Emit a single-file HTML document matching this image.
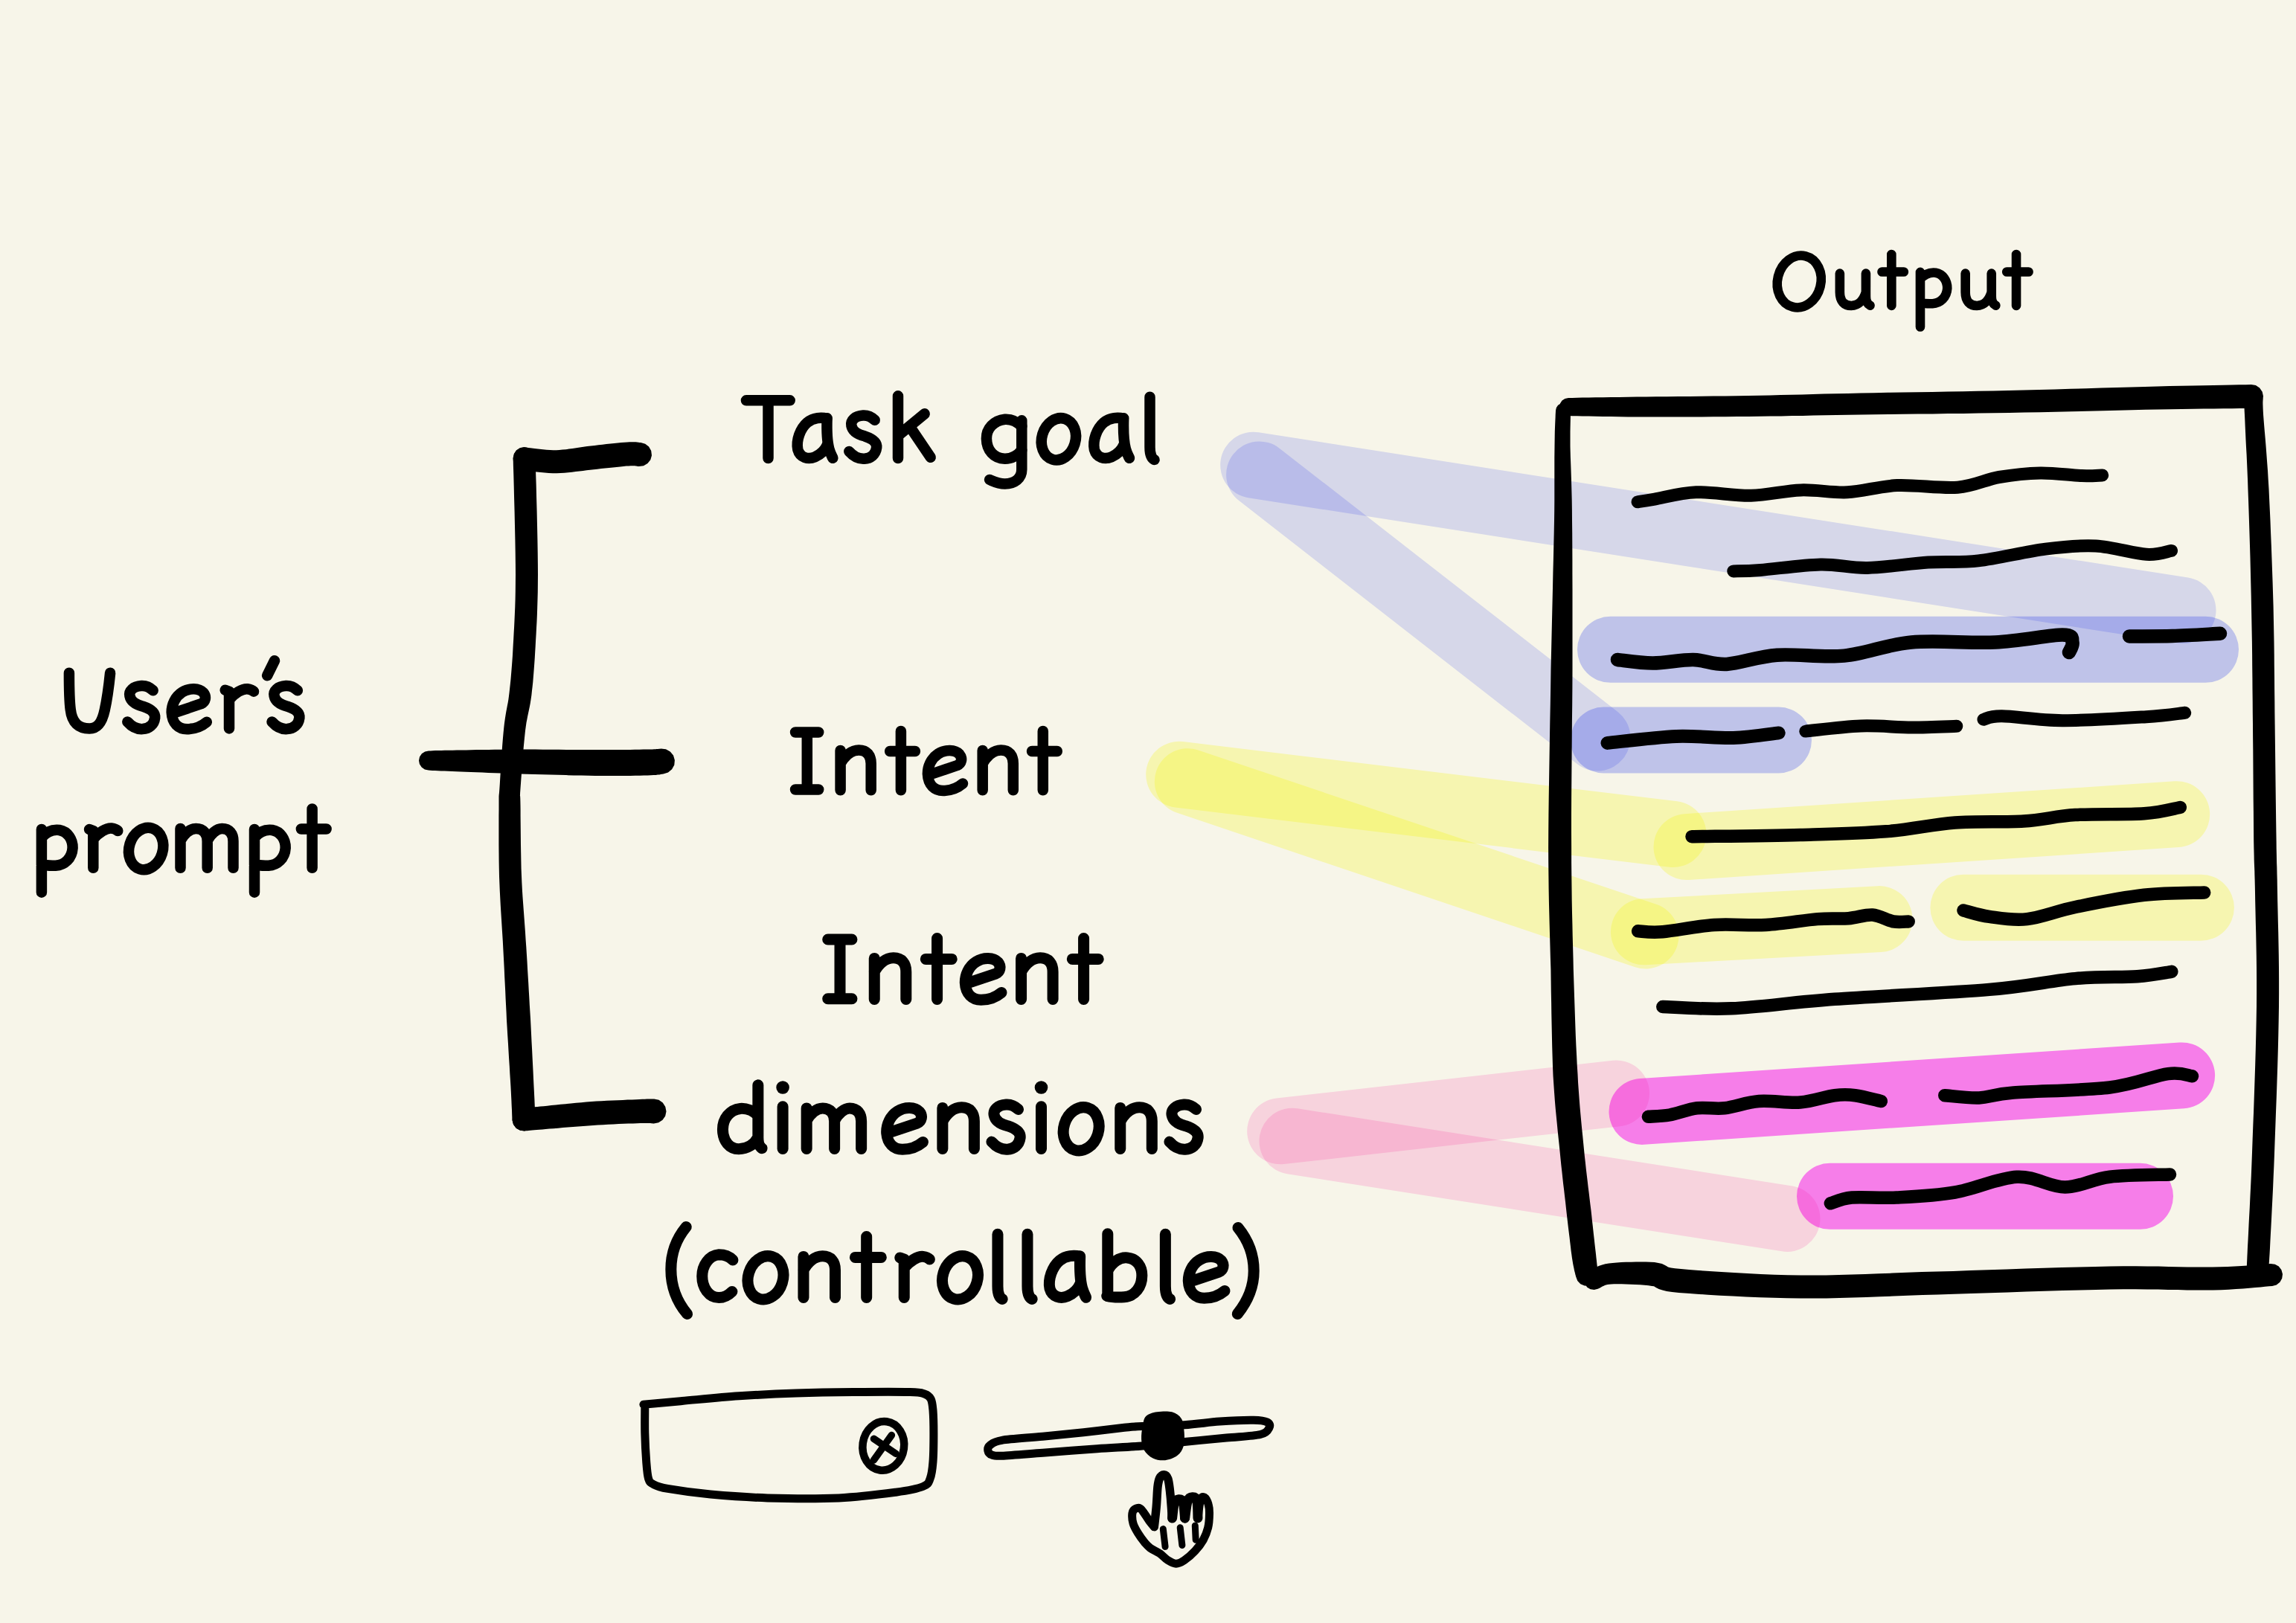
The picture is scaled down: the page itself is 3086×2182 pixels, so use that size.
<!DOCTYPE html>
<html><head><meta charset="utf-8"><title>diagram</title>
<style>html,body{margin:0;padding:0;background:#F7F5E9;}svg{display:block}</style></head>
<body><svg width="3086" height="2182" viewBox="0 0 3086 2182">
<rect width="3086" height="2182" fill="#F7F5E9"/>
<g style="mix-blend-mode:multiply">
<path d="M1684.7 625.2 L2934.0 820.5" fill="none" stroke="rgb(221,224,255)" stroke-width="89" stroke-linecap="round"  style="mix-blend-mode:multiply"/>
<path d="M1692.6 638.0 L2147.0 992.0" fill="none" stroke="rgb(221,224,255)" stroke-width="89" stroke-linecap="round"  style="mix-blend-mode:multiply"/>
<path d="M2164.5 873.3 L2964.5 873.3" fill="none" stroke="rgb(197,203,255)" stroke-width="89" stroke-linecap="round"  style="mix-blend-mode:multiply"/>
<path d="M2155.5 995.0 L2390.5 995.0" fill="none" stroke="rgb(197,203,255)" stroke-width="89" stroke-linecap="round"  style="mix-blend-mode:multiply"/>
<path d="M1584.7 1041.3 L2249.0 1121.5" fill="none" stroke="rgb(254,255,193)" stroke-width="89" stroke-linecap="round"  style="mix-blend-mode:multiply"/>
<path d="M1596.3 1050.7 L2212.0 1258.0" fill="none" stroke="rgb(254,255,193)" stroke-width="89" stroke-linecap="round"  style="mix-blend-mode:multiply"/>
<path d="M2267.0 1138.6 L2925.7 1094.7" fill="none" stroke="rgb(254,255,193)" stroke-width="89" stroke-linecap="round"  style="mix-blend-mode:multiply"/>
<path d="M2209.4 1252.7 L2526.0 1235.6" fill="none" stroke="rgb(254,255,193)" stroke-width="89" stroke-linecap="round"  style="mix-blend-mode:multiply"/>
<path d="M2638.9 1220.2 L2958.4 1220.2" fill="none" stroke="rgb(254,255,193)" stroke-width="89" stroke-linecap="round"  style="mix-blend-mode:multiply"/>
<path d="M1720.7 1520.8 L2172.5 1470.0" fill="none" stroke="rgb(255,220,242)" stroke-width="89" stroke-linecap="round"  style="mix-blend-mode:multiply"/>
<path d="M1737.0 1534.2 L2402.0 1638.4" fill="none" stroke="rgb(255,220,242)" stroke-width="89" stroke-linecap="round"  style="mix-blend-mode:multiply"/>
<path d="M2207.0 1494.4 L2932.6 1445.9" fill="none" stroke="rgb(254,131,255)" stroke-width="89" stroke-linecap="round"  style="mix-blend-mode:multiply"/>
<path d="M2459.5 1608.3 L2876.5 1608.3" fill="none" stroke="rgb(254,131,255)" stroke-width="89" stroke-linecap="round"  style="mix-blend-mode:multiply"/>
</g>
<path d="M689.7 616.4 L689.9 625.9 L690.3 638.6 L690.7 653.6 L691.1 670.4 L691.6 688.4 L692.0 706.8 L692.4 725.0 L692.7 742.4 L692.9 758.3 L693.0 772.0 L692.9 784.0 L692.8 795.3 L692.6 805.8 L692.3 815.7 L691.9 825.1 L691.5 834.0 L691.1 842.6 L690.6 851.0 L690.2 859.1 L689.7 867.2 L689.3 874.9 L688.9 882.3 L688.4 889.2 L687.9 895.8 L687.4 902.1 L686.9 908.1 L686.4 914.0 L685.8 919.7 L685.2 925.3 L684.6 930.8 L684.0 935.8 L683.4 940.3 L682.7 944.5 L681.9 948.6 L681.1 952.7 L680.3 957.1 L679.5 961.8 L678.7 966.9 L677.9 972.7 L677.2 979.0 L676.5 986.2 L675.8 994.3 L675.1 1003.0 L674.5 1012.1 L673.8 1021.3 L673.2 1030.4 L672.7 1039.1 L672.2 1047.1 L671.8 1054.1 L671.4 1059.9 L671.1 1064.0 L670.9 1066.6 L670.7 1068.1 L670.6 1069.3 L670.5 1070.8 L670.5 1071.7 L670.5 1072.6 L670.5 1074.3 L670.5 1077.3 L670.5 1082.1 L670.5 1088.6 L670.4 1096.4 L670.4 1105.3 L670.4 1115.1 L670.4 1125.4 L670.4 1136.1 L670.5 1147.0 L670.6 1157.9 L670.8 1168.5 L671.0 1178.5 L671.4 1188.3 L671.8 1198.0 L672.3 1207.7 L672.8 1217.3 L673.4 1227.0 L674.0 1236.6 L674.6 1246.2 L675.2 1255.8 L675.8 1265.3 L676.3 1274.9 L676.8 1284.5 L677.3 1294.1 L677.8 1303.8 L678.2 1313.4 L678.7 1323.1 L679.2 1332.7 L679.6 1342.4 L680.1 1352.1 L680.6 1361.7 L681.0 1371.4 L681.6 1381.3 L682.2 1391.6 L682.9 1402.1 L683.5 1412.7 L684.1 1423.1 L684.8 1433.3 L685.3 1443.0 L685.9 1452.0 L686.4 1460.3 L686.8 1467.5 L687.1 1473.8 L687.4 1479.4 L687.6 1484.4 L687.8 1488.7 L688.0 1492.5 L688.1 1495.8 L688.2 1498.7 L688.3 1501.3 L688.4 1503.6 L688.5 1505.7 L689.9 1511.5 L693.5 1516.4 L698.7 1519.6 L704.7 1520.5 L710.5 1519.1 L715.4 1515.5 L718.6 1510.3 L719.5 1504.3 L719.4 1502.4 L719.3 1500.1 L719.2 1497.6 L719.1 1494.6 L719.0 1491.2 L718.8 1487.4 L718.6 1483.0 L718.4 1477.9 L718.1 1472.3 L717.8 1465.9 L717.4 1458.6 L717.0 1450.3 L716.6 1441.2 L716.1 1431.5 L715.6 1421.4 L715.1 1410.9 L714.5 1400.3 L714.0 1389.8 L713.5 1379.5 L713.0 1369.6 L712.4 1360.0 L711.8 1350.4 L711.3 1340.7 L710.7 1331.1 L710.2 1321.4 L709.6 1311.7 L709.0 1302.1 L708.5 1292.4 L707.9 1282.8 L707.3 1273.1 L706.6 1263.4 L706.0 1253.8 L705.3 1244.1 L704.6 1234.5 L703.9 1224.9 L703.2 1215.4 L702.5 1205.9 L701.9 1196.4 L701.4 1186.9 L701.0 1177.5 L700.6 1167.7 L700.4 1157.3 L700.2 1146.6 L700.0 1135.9 L699.9 1125.2 L699.8 1115.0 L699.7 1105.3 L699.6 1096.4 L699.6 1088.5 L699.5 1081.9 L699.4 1076.9 L699.3 1073.6 L699.2 1071.4 L699.1 1070.2 L699.0 1070.1 L698.9 1070.6 L698.9 1070.2 L699.0 1068.7 L699.1 1065.9 L699.4 1061.7 L699.8 1055.9 L700.3 1049.0 L700.9 1041.0 L701.5 1032.4 L702.2 1023.4 L703.0 1014.3 L703.7 1005.3 L704.5 996.8 L705.3 989.0 L706.0 982.2 L706.8 976.5 L707.5 971.5 L708.4 966.9 L709.2 962.7 L710.1 958.5 L711.0 954.3 L711.9 949.9 L712.8 945.2 L713.6 940.0 L714.4 934.4 L715.0 928.6 L715.7 922.8 L716.3 916.9 L716.8 910.8 L717.3 904.5 L717.8 898.0 L718.3 891.2 L718.8 884.1 L719.2 876.7 L719.7 868.8 L720.1 860.8 L720.6 852.6 L721.0 844.2 L721.5 835.5 L721.9 826.3 L722.2 816.7 L722.5 806.6 L722.8 795.8 L722.9 784.3 L723.0 772.0 L722.9 758.0 L722.7 741.9 L722.4 724.4 L722.0 706.1 L721.6 687.6 L721.1 669.7 L720.7 652.8 L720.2 637.8 L719.9 625.2 L719.7 615.6 L718.4 609.9 L715.1 605.1 L710.1 602.0 L704.3 601.0 L698.6 602.3 L693.8 605.6 L690.7 610.6Z" fill="#000"/>
<path d="M703.4 632.4 L705.8 632.7 L708.9 633.0 L712.7 633.5 L717.0 634.0 L721.8 634.6 L726.9 635.1 L732.2 635.6 L737.6 636.0 L743.0 636.2 L748.3 636.2 L753.4 636.1 L758.6 635.7 L763.7 635.3 L768.8 634.8 L773.8 634.1 L778.8 633.5 L783.6 632.9 L788.4 632.3 L793.1 631.7 L797.8 631.2 L802.7 630.7 L807.9 630.1 L813.1 629.5 L818.5 628.9 L823.7 628.4 L828.7 627.9 L833.5 627.4 L837.9 627.0 L841.8 626.6 L845.0 626.4 L847.6 626.2 L849.7 626.2 L851.3 626.2 L852.5 626.2 L853.5 626.3 L854.3 626.4 L855.1 626.5 L856.2 626.7 L857.6 626.9 L858.8 627.0 L865.0 626.2 L870.4 623.1 L874.3 618.2 L876.0 612.2 L875.2 606.0 L872.1 600.6 L867.2 596.7 L861.2 595.0 L860.8 595.0 L860.5 595.0 L859.6 594.9 L858.3 594.7 L856.5 594.5 L854.4 594.3 L852.0 594.2 L849.3 594.2 L846.3 594.3 L843.0 594.4 L839.2 594.7 L835.0 595.1 L830.4 595.5 L825.5 596.0 L820.3 596.6 L815.0 597.1 L809.7 597.7 L804.4 598.3 L799.2 598.9 L794.2 599.4 L789.2 600.0 L784.2 600.7 L779.2 601.5 L774.4 602.2 L769.6 602.9 L764.9 603.6 L760.4 604.2 L756.0 604.6 L751.8 605.0 L747.7 605.2 L743.7 605.2 L739.2 605.0 L734.6 604.7 L729.9 604.3 L725.2 603.8 L720.7 603.3 L716.5 602.7 L712.7 602.3 L709.3 601.9 L706.6 601.6 L700.6 602.1 L695.2 605.0 L691.4 609.6 L689.6 615.4 L690.1 621.4 L693.0 626.8 L697.6 630.6Z" fill="#000"/>
<path d="M575.9 1035.5 L578.3 1035.7 L581.3 1035.9 L584.7 1036.0 L588.6 1036.2 L592.8 1036.4 L597.5 1036.6 L602.6 1036.8 L608.0 1037.1 L613.8 1037.3 L619.8 1037.5 L626.3 1037.8 L633.2 1038.1 L640.5 1038.3 L648.3 1038.6 L656.3 1038.9 L664.6 1039.2 L673.2 1039.5 L681.9 1039.9 L690.8 1040.2 L699.8 1040.5 L709.1 1040.7 L718.9 1041.0 L729.2 1041.3 L739.7 1041.6 L750.3 1041.8 L760.9 1042.1 L771.3 1042.4 L781.4 1042.6 L791.0 1042.8 L799.9 1043.0 L808.4 1043.0 L816.7 1043.0 L824.8 1043.0 L832.7 1043.0 L840.1 1042.9 L847.2 1042.9 L853.9 1042.8 L860.0 1042.7 L865.5 1042.6 L870.4 1042.5 L874.7 1042.3 L878.4 1042.1 L881.5 1041.9 L884.1 1041.6 L886.3 1041.4 L888.1 1041.1 L889.5 1040.8 L890.4 1040.7 L891.0 1040.5 L891.6 1040.4 L898.0 1038.5 L903.1 1034.3 L906.3 1028.5 L906.9 1021.9 L905.0 1015.5 L900.8 1010.4 L895.0 1007.2 L888.4 1006.6 L887.1 1006.7 L885.7 1006.8 L884.6 1006.9 L883.6 1007.0 L882.5 1007.1 L881.0 1007.2 L879.1 1007.3 L876.7 1007.4 L873.5 1007.4 L869.6 1007.5 L864.8 1007.6 L859.4 1007.7 L853.4 1007.8 L846.8 1007.9 L839.9 1007.9 L832.5 1008.0 L824.7 1008.0 L816.7 1008.0 L808.5 1008.0 L800.1 1008.0 L791.3 1008.0 L781.8 1008.0 L771.8 1008.0 L761.5 1007.9 L750.9 1007.8 L740.3 1007.8 L729.8 1007.7 L719.5 1007.6 L709.6 1007.5 L700.2 1007.5 L691.2 1007.6 L682.4 1007.7 L673.6 1007.7 L665.0 1007.8 L656.7 1007.9 L648.6 1008.0 L640.9 1008.1 L633.6 1008.3 L626.6 1008.4 L620.2 1008.5 L614.1 1008.6 L608.4 1008.7 L602.9 1008.7 L597.9 1008.8 L593.2 1008.9 L588.9 1009.0 L585.0 1009.1 L581.6 1009.3 L578.6 1009.4 L576.1 1009.5 L571.2 1010.4 L566.9 1013.2 L564.0 1017.4 L563.0 1022.4 L563.9 1027.3 L566.7 1031.6 L570.9 1034.5Z" fill="#000"/>
<path d="M705.3 1520.4 L706.8 1520.3 L708.5 1520.2 L710.5 1520.0 L712.8 1519.8 L715.3 1519.6 L718.2 1519.3 L721.4 1519.1 L725.0 1518.8 L729.0 1518.4 L733.4 1518.0 L738.4 1517.6 L743.9 1517.2 L750.0 1516.7 L756.5 1516.1 L763.2 1515.5 L770.1 1514.9 L777.0 1514.4 L783.9 1513.9 L790.6 1513.4 L797.1 1513.0 L803.6 1512.6 L810.4 1512.2 L817.4 1511.8 L824.5 1511.5 L831.5 1511.1 L838.3 1510.8 L844.7 1510.6 L850.7 1510.4 L856.0 1510.2 L860.5 1510.0 L864.2 1509.9 L867.3 1509.9 L869.7 1509.9 L871.6 1510.0 L873.1 1510.1 L874.3 1510.1 L875.4 1510.2 L876.5 1510.3 L877.6 1510.4 L878.8 1510.5 L885.1 1509.3 L890.5 1505.8 L894.2 1500.5 L895.5 1494.2 L894.3 1487.9 L890.8 1482.5 L885.5 1478.8 L879.2 1477.5 L878.5 1477.5 L877.8 1477.6 L876.8 1477.6 L875.5 1477.6 L873.9 1477.6 L871.9 1477.6 L869.5 1477.6 L866.7 1477.7 L863.4 1477.8 L859.5 1478.0 L854.8 1478.2 L849.5 1478.4 L843.5 1478.6 L837.0 1478.9 L830.1 1479.2 L823.0 1479.5 L815.8 1479.8 L808.6 1480.2 L801.6 1480.6 L794.9 1481.0 L788.2 1481.6 L781.3 1482.2 L774.3 1482.8 L767.3 1483.5 L760.3 1484.2 L753.5 1484.8 L747.1 1485.5 L741.0 1486.1 L735.5 1486.7 L730.6 1487.2 L726.3 1487.5 L722.3 1487.9 L718.7 1488.2 L715.5 1488.5 L712.7 1488.7 L710.1 1488.9 L707.9 1489.1 L705.9 1489.3 L704.2 1489.4 L702.7 1489.6 L696.9 1491.2 L692.1 1495.0 L689.2 1500.3 L688.6 1506.3 L690.2 1512.1 L694.0 1516.9 L699.3 1519.8Z" fill="#000"/>
<path d="M2091.0 551.7 L2090.9 554.3 L2090.7 557.4 L2090.6 560.9 L2090.4 564.9 L2090.2 569.5 L2090.0 574.5 L2089.8 580.1 L2089.7 586.2 L2089.6 592.8 L2089.5 600.0 L2089.4 607.5 L2089.3 615.2 L2089.3 623.2 L2089.3 631.7 L2089.3 640.7 L2089.3 650.5 L2089.3 661.1 L2089.3 672.8 L2089.2 685.7 L2089.0 700.0 L2088.7 715.7 L2088.3 732.9 L2087.9 751.3 L2087.4 770.7 L2087.0 791.1 L2086.5 812.2 L2086.0 833.8 L2085.5 855.7 L2085.0 877.8 L2084.5 899.8 L2084.2 922.6 L2083.8 946.5 L2083.3 971.3 L2082.9 996.6 L2082.5 1022.1 L2082.1 1047.5 L2081.7 1072.3 L2081.4 1096.2 L2081.2 1118.9 L2081.1 1140.0 L2081.2 1159.6 L2081.4 1178.0 L2081.6 1195.5 L2081.9 1212.0 L2082.3 1228.0 L2082.7 1243.4 L2083.1 1258.5 L2083.5 1273.4 L2083.9 1288.3 L2084.4 1303.4 L2084.6 1318.6 L2084.8 1333.8 L2085.1 1348.8 L2085.3 1363.6 L2085.6 1378.3 L2085.9 1392.6 L2086.2 1406.6 L2086.6 1420.1 L2087.0 1433.3 L2087.5 1445.9 L2088.3 1458.0 L2089.1 1469.5 L2089.9 1480.5 L2090.8 1491.1 L2091.8 1501.3 L2092.8 1511.2 L2093.7 1520.8 L2094.7 1530.2 L2095.7 1539.4 L2096.6 1548.6 L2097.5 1557.7 L2098.4 1566.7 L2099.4 1575.4 L2100.3 1583.9 L2101.2 1592.2 L2102.2 1600.3 L2103.1 1608.2 L2104.0 1615.8 L2104.8 1623.2 L2105.6 1630.4 L2106.4 1637.4 L2107.2 1644.4 L2108.0 1651.2 L2108.8 1657.8 L2109.6 1664.1 L2110.3 1670.2 L2111.0 1676.0 L2111.6 1681.4 L2112.3 1686.5 L2112.9 1691.1 L2113.6 1695.2 L2114.2 1699.0 L2114.9 1702.4 L2115.5 1705.3 L2116.0 1708.0 L2116.6 1710.2 L2117.1 1712.2 L2117.5 1713.9 L2117.9 1715.3 L2118.2 1716.5 L2120.3 1722.0 L2124.3 1726.2 L2129.7 1728.6 L2135.5 1728.8 L2141.0 1726.7 L2145.2 1722.7 L2147.6 1717.3 L2147.8 1711.5 L2147.7 1710.1 L2147.5 1708.4 L2147.3 1706.7 L2147.1 1704.8 L2146.8 1702.6 L2146.5 1700.2 L2146.2 1697.4 L2145.9 1694.3 L2145.5 1690.9 L2145.1 1686.9 L2144.6 1682.5 L2144.0 1677.6 L2143.4 1672.2 L2142.8 1666.5 L2142.1 1660.4 L2141.4 1654.1 L2140.7 1647.5 L2139.9 1640.7 L2139.2 1633.7 L2138.4 1626.6 L2137.5 1619.4 L2136.6 1611.9 L2135.7 1604.3 L2134.7 1596.5 L2133.8 1588.4 L2132.8 1580.2 L2131.8 1571.8 L2130.9 1563.2 L2129.9 1554.4 L2129.0 1545.4 L2128.1 1536.2 L2127.2 1526.9 L2126.2 1517.5 L2125.3 1508.0 L2124.4 1498.3 L2123.5 1488.2 L2122.7 1477.9 L2121.9 1467.1 L2121.1 1455.9 L2120.5 1444.1 L2119.7 1431.8 L2119.1 1418.8 L2118.4 1405.4 L2117.8 1391.6 L2117.3 1377.4 L2116.8 1362.8 L2116.3 1348.0 L2115.8 1333.0 L2115.3 1317.9 L2114.8 1302.6 L2114.5 1287.5 L2114.1 1272.6 L2113.7 1257.7 L2113.4 1242.6 L2113.0 1227.3 L2112.7 1211.5 L2112.5 1195.0 L2112.3 1177.7 L2112.1 1159.4 L2112.1 1140.0 L2112.0 1119.0 L2112.0 1096.4 L2112.1 1072.5 L2112.3 1047.8 L2112.5 1022.5 L2112.7 997.0 L2112.9 971.7 L2113.2 946.9 L2113.4 922.9 L2113.5 900.2 L2113.5 878.1 L2113.5 856.0 L2113.5 834.1 L2113.5 812.5 L2113.5 791.4 L2113.4 771.0 L2113.4 751.5 L2113.3 733.1 L2113.2 715.8 L2113.0 700.0 L2112.9 685.7 L2112.7 672.7 L2112.4 660.9 L2112.1 650.1 L2111.8 640.3 L2111.5 631.3 L2111.2 622.8 L2110.9 614.9 L2110.7 607.4 L2110.5 600.0 L2110.5 592.9 L2110.5 586.4 L2110.5 580.5 L2110.6 575.0 L2110.7 570.0 L2110.8 565.6 L2110.9 561.6 L2110.9 558.0 L2111.0 554.9 L2111.0 552.3 L2110.3 548.4 L2108.3 545.1 L2105.1 542.9 L2101.3 542.0 L2097.4 542.7 L2094.1 544.7 L2091.9 547.9Z" fill="#000"/>
<path d="M2108.0 559.0 L2113.2 559.2 L2119.6 559.3 L2127.0 559.5 L2135.4 559.6 L2144.6 559.8 L2154.6 560.0 L2165.2 560.1 L2176.4 560.3 L2188.1 560.4 L2200.0 560.5 L2212.7 560.5 L2226.3 560.5 L2240.8 560.5 L2255.8 560.5 L2271.4 560.4 L2287.2 560.4 L2303.2 560.3 L2319.1 560.2 L2334.9 560.1 L2350.2 560.0 L2365.1 559.8 L2379.6 559.6 L2394.0 559.4 L2408.3 559.1 L2422.8 558.9 L2437.4 558.6 L2452.5 558.3 L2468.0 558.0 L2484.2 557.8 L2501.2 557.5 L2519.2 557.3 L2537.9 557.0 L2557.3 556.8 L2577.3 556.6 L2597.6 556.4 L2618.2 556.1 L2638.9 555.9 L2659.6 555.6 L2680.1 555.3 L2700.3 555.0 L2720.6 554.6 L2741.5 554.2 L2762.6 553.7 L2783.9 553.2 L2805.0 552.7 L2825.7 552.2 L2845.8 551.7 L2865.1 551.2 L2883.4 550.8 L2900.3 550.5 L2916.5 550.2 L2932.2 550.0 L2947.5 549.8 L2962.0 549.6 L2975.7 549.4 L2988.4 549.3 L3000.0 549.2 L3010.3 549.1 L3019.1 549.1 L3026.2 549.0 L3032.3 547.7 L3037.5 544.1 L3040.9 538.9 L3042.0 532.8 L3040.7 526.7 L3037.1 521.5 L3031.9 518.1 L3025.8 517.0 L3018.6 517.2 L3009.8 517.3 L2999.6 517.5 L2988.0 517.7 L2975.3 517.9 L2961.5 518.2 L2947.0 518.5 L2931.7 518.8 L2915.9 519.1 L2899.7 519.5 L2882.6 519.9 L2864.3 520.4 L2845.0 521.0 L2824.9 521.6 L2804.2 522.2 L2783.1 522.8 L2761.9 523.4 L2740.8 524.0 L2720.0 524.5 L2699.7 525.0 L2679.6 525.4 L2659.1 525.8 L2638.5 526.2 L2617.8 526.5 L2597.2 526.9 L2576.9 527.2 L2556.9 527.5 L2537.5 527.8 L2518.7 528.2 L2500.8 528.5 L2483.7 528.9 L2467.4 529.2 L2451.8 529.6 L2436.8 530.0 L2422.1 530.4 L2407.7 530.7 L2393.4 531.1 L2379.1 531.4 L2364.6 531.7 L2349.8 532.0 L2334.5 532.2 L2318.9 532.4 L2303.0 532.6 L2287.1 532.8 L2271.2 532.9 L2255.7 533.1 L2240.6 533.2 L2226.2 533.3 L2212.6 533.4 L2200.0 533.5 L2188.0 533.7 L2176.4 533.9 L2165.2 534.0 L2154.6 534.2 L2144.6 534.3 L2135.4 534.4 L2127.0 534.6 L2119.6 534.7 L2113.2 534.9 L2108.0 535.0 L2103.4 535.9 L2099.5 538.5 L2096.9 542.4 L2096.0 547.0 L2096.9 551.6 L2099.5 555.5 L2103.4 558.1Z" fill="#000"/>
<path d="M3016.5 536.1 L3016.5 537.0 L3016.5 537.6 L3016.5 538.5 L3016.4 539.7 L3016.4 541.3 L3016.5 543.4 L3016.5 546.2 L3016.6 549.7 L3016.8 554.1 L3017.1 559.7 L3017.4 566.3 L3017.7 573.8 L3018.1 582.1 L3018.5 591.2 L3019.0 600.9 L3019.6 611.3 L3020.1 622.4 L3020.6 634.0 L3021.1 646.1 L3021.5 658.6 L3022.0 672.0 L3022.5 686.4 L3023.0 701.6 L3023.5 717.5 L3024.0 733.8 L3024.5 750.4 L3024.9 767.2 L3025.3 783.9 L3025.7 800.3 L3026.0 816.3 L3026.3 832.1 L3026.6 847.9 L3026.9 863.6 L3027.1 879.4 L3027.2 895.2 L3027.4 911.0 L3027.5 926.8 L3027.7 942.6 L3027.8 958.4 L3028.0 974.2 L3028.1 990.3 L3028.3 1007.0 L3028.4 1024.1 L3028.5 1041.2 L3028.6 1058.2 L3028.7 1074.7 L3028.9 1090.6 L3029.0 1105.4 L3029.1 1119.1 L3029.2 1131.2 L3029.4 1141.3 L3029.6 1149.4 L3029.7 1155.9 L3029.9 1161.4 L3030.1 1166.2 L3030.3 1171.0 L3030.4 1176.3 L3030.6 1182.6 L3030.8 1190.4 L3031.0 1200.3 L3031.2 1212.0 L3031.5 1224.9 L3031.8 1238.7 L3032.2 1253.4 L3032.5 1268.8 L3032.8 1284.8 L3033.0 1301.4 L3033.1 1318.3 L3033.1 1335.5 L3033.0 1352.8 L3032.7 1371.0 L3032.3 1390.4 L3031.8 1410.7 L3031.2 1431.5 L3030.5 1452.6 L3029.8 1473.6 L3029.1 1494.1 L3028.3 1513.8 L3027.6 1532.4 L3027.0 1549.4 L3026.4 1565.3 L3025.8 1580.7 L3025.1 1595.5 L3024.4 1609.5 L3023.8 1622.9 L3023.1 1635.4 L3022.5 1647.1 L3022.0 1657.8 L3021.5 1667.6 L3021.0 1676.2 L3020.7 1683.6 L3020.4 1689.7 L3020.2 1694.5 L3020.0 1698.4 L3019.9 1701.5 L3019.8 1704.0 L3019.7 1706.0 L3019.6 1707.7 L3019.6 1709.4 L3019.5 1711.1 L3020.3 1716.7 L3023.1 1721.6 L3027.7 1725.0 L3033.1 1726.5 L3038.7 1725.7 L3043.6 1722.9 L3047.0 1718.3 L3048.5 1712.9 L3048.6 1711.3 L3048.8 1709.7 L3048.9 1708.0 L3049.1 1705.9 L3049.3 1703.4 L3049.6 1700.2 L3049.9 1696.2 L3050.2 1691.2 L3050.6 1685.1 L3051.0 1677.8 L3051.4 1669.1 L3051.9 1659.4 L3052.5 1648.6 L3053.1 1637.0 L3053.7 1624.4 L3054.4 1611.0 L3055.1 1596.8 L3055.7 1582.0 L3056.4 1566.6 L3057.0 1550.6 L3057.6 1533.5 L3058.3 1514.9 L3059.0 1495.2 L3059.8 1474.7 L3060.5 1453.6 L3061.2 1432.5 L3061.8 1411.5 L3062.3 1391.1 L3062.7 1371.5 L3063.0 1353.2 L3063.1 1335.6 L3063.1 1318.2 L3063.0 1301.1 L3062.8 1284.4 L3062.5 1268.2 L3062.2 1252.7 L3061.8 1238.0 L3061.5 1224.2 L3061.2 1211.4 L3061.0 1199.7 L3060.8 1189.8 L3060.7 1181.9 L3060.5 1175.5 L3060.4 1170.1 L3060.3 1165.3 L3060.1 1160.4 L3060.0 1155.1 L3059.9 1148.8 L3059.7 1140.8 L3059.6 1130.8 L3059.4 1118.7 L3059.2 1105.1 L3059.0 1090.2 L3058.8 1074.4 L3058.6 1057.9 L3058.4 1041.0 L3058.2 1023.8 L3058.0 1006.7 L3057.8 990.0 L3057.6 973.8 L3057.4 958.1 L3057.3 942.3 L3057.1 926.5 L3057.0 910.7 L3056.8 894.9 L3056.7 879.1 L3056.5 863.2 L3056.2 847.4 L3055.9 831.5 L3055.6 815.7 L3055.1 799.6 L3054.6 783.0 L3054.0 766.3 L3053.4 749.5 L3052.8 732.8 L3052.1 716.4 L3051.5 700.5 L3050.8 685.3 L3050.1 670.8 L3049.5 657.4 L3048.7 644.7 L3048.0 632.5 L3047.1 620.8 L3046.3 609.7 L3045.5 599.2 L3044.7 589.4 L3043.9 580.4 L3043.2 572.2 L3042.6 564.8 L3042.1 558.3 L3041.8 552.9 L3041.6 548.7 L3041.5 545.4 L3041.4 543.0 L3041.4 541.3 L3041.4 540.1 L3041.5 539.2 L3041.5 538.2 L3041.5 537.0 L3041.5 535.9 L3040.5 531.1 L3037.7 527.1 L3033.6 524.4 L3028.9 523.5 L3024.1 524.5 L3020.1 527.3 L3017.4 531.4Z" fill="#000"/>
<path d="M2147.6 1732.7 L2149.4 1732.0 L2151.3 1730.9 L2152.9 1730.1 L2154.3 1729.3 L2155.6 1728.7 L2157.0 1728.1 L2158.6 1727.6 L2160.5 1727.1 L2162.7 1726.7 L2165.5 1726.4 L2169.3 1726.3 L2174.2 1726.3 L2179.7 1726.3 L2185.7 1726.4 L2192.0 1726.7 L2198.3 1727.0 L2204.5 1727.3 L2210.4 1727.8 L2215.8 1728.3 L2220.2 1728.9 L2222.9 1729.3 L2223.4 1729.4 L2223.0 1729.3 L2223.4 1729.6 L2225.7 1731.0 L2229.6 1732.9 L2234.4 1734.5 L2240.2 1735.9 L2247.4 1737.0 L2256.5 1737.9 L2267.8 1738.8 L2280.8 1739.7 L2295.6 1740.7 L2311.7 1741.7 L2328.9 1742.6 L2346.8 1743.5 L2365.2 1744.2 L2383.7 1744.8 L2402.0 1745.3 L2419.9 1745.5 L2437.4 1745.5 L2454.9 1745.4 L2472.4 1745.0 L2490.2 1744.5 L2508.2 1743.9 L2526.5 1743.3 L2545.2 1742.5 L2564.3 1741.8 L2584.1 1741.1 L2604.5 1740.5 L2626.2 1739.8 L2649.3 1739.1 L2673.6 1738.3 L2698.4 1737.5 L2723.4 1736.6 L2748.2 1735.8 L2772.3 1735.1 L2795.3 1734.4 L2816.7 1733.9 L2836.2 1733.5 L2854.0 1733.3 L2870.5 1733.3 L2886.0 1733.4 L2900.5 1733.6 L2914.3 1733.9 L2927.2 1734.1 L2939.6 1734.4 L2951.5 1734.6 L2963.1 1734.6 L2974.3 1734.5 L2985.2 1734.2 L2995.6 1733.7 L3005.4 1733.1 L3014.7 1732.5 L3023.3 1731.8 L3031.2 1731.1 L3038.3 1730.4 L3044.5 1729.8 L3049.8 1729.3 L3054.1 1729.0 L3059.7 1727.4 L3064.4 1723.8 L3067.2 1718.7 L3068.0 1712.9 L3066.4 1707.3 L3062.8 1702.6 L3057.7 1699.8 L3051.9 1699.0 L3047.4 1699.3 L3041.9 1699.7 L3035.7 1700.2 L3028.7 1700.8 L3020.9 1701.4 L3012.6 1701.9 L3003.6 1702.5 L2994.1 1702.9 L2984.1 1703.3 L2973.7 1703.5 L2963.0 1703.6 L2951.8 1703.6 L2940.2 1703.4 L2927.9 1703.2 L2914.9 1702.9 L2901.1 1702.6 L2886.3 1702.4 L2870.6 1702.3 L2853.8 1702.3 L2835.8 1702.5 L2816.0 1702.9 L2794.4 1703.4 L2771.3 1704.1 L2747.2 1704.8 L2722.4 1705.6 L2697.3 1706.5 L2672.5 1707.3 L2648.3 1708.1 L2625.2 1708.9 L2603.5 1709.5 L2583.0 1710.1 L2563.2 1710.8 L2544.0 1711.6 L2525.3 1712.3 L2507.1 1712.9 L2489.2 1713.5 L2471.7 1714.0 L2454.4 1714.4 L2437.2 1714.5 L2420.1 1714.5 L2402.7 1714.2 L2384.7 1713.7 L2366.4 1712.9 L2348.3 1712.1 L2330.6 1711.1 L2313.6 1710.1 L2297.7 1709.1 L2283.1 1708.0 L2270.2 1707.0 L2259.5 1706.1 L2251.4 1705.2 L2246.0 1704.4 L2242.9 1703.7 L2241.6 1703.2 L2241.3 1703.0 L2240.5 1702.5 L2237.9 1701.0 L2233.8 1699.1 L2229.0 1697.9 L2223.8 1697.1 L2218.1 1696.8 L2212.1 1696.6 L2205.6 1696.6 L2199.0 1696.6 L2192.3 1696.7 L2185.6 1696.8 L2179.2 1697.1 L2173.1 1697.5 L2167.5 1698.0 L2162.5 1698.6 L2157.8 1699.3 L2153.4 1700.4 L2149.5 1701.7 L2146.1 1703.2 L2143.1 1704.7 L2140.7 1706.2 L2138.8 1707.5 L2137.5 1708.5 L2136.9 1708.9 L2136.4 1709.3 L2132.3 1712.3 L2129.7 1716.7 L2129.0 1721.7 L2130.3 1726.6 L2133.3 1730.7 L2137.7 1733.3 L2142.7 1734.0Z" fill="#000"/>
<path d="M2201.1 674.8 C2204.9 674.2 2210.9 673.3 2224.0 671.1 C2237.1 668.9 2258.0 662.6 2279.6 661.8 C2301.2 661.0 2330.1 666.8 2353.6 666.3 C2377.1 665.8 2398.7 659.6 2420.3 658.9 C2441.9 658.1 2461.6 662.8 2483.2 661.8 C2504.8 660.8 2525.2 653.7 2549.9 652.6 C2574.6 651.5 2608.5 657.1 2631.3 655.2 C2654.1 653.4 2668.3 644.7 2686.8 641.5 C2705.3 638.3 2723.9 636.2 2742.4 635.9 C2760.9 635.6 2784.0 639.1 2797.9 639.6 C2811.8 640.1 2821.1 639.0 2825.7 638.9" fill="none" stroke="#000" stroke-width="17" stroke-linecap="round" stroke-linejoin="round" />
<path d="M2329.8 767.9 C2335.8 767.7 2346.4 768.0 2365.9 766.5 C2385.4 765.0 2423.0 759.4 2447.0 758.9 C2471.0 758.4 2485.9 763.9 2510.0 763.4 C2534.1 762.9 2566.7 757.7 2591.5 756.1 C2616.3 754.5 2632.7 756.9 2659.0 753.9 C2685.3 750.9 2723.1 741.4 2749.4 738.1 C2775.7 734.8 2794.4 732.8 2817.0 734.0 C2839.6 735.2 2867.9 744.2 2884.8 745.3 C2901.7 746.4 2913.0 741.2 2918.6 740.4" fill="none" stroke="#000" stroke-width="17" stroke-linecap="round" stroke-linejoin="round" />
<path d="M2174.0 887.0 C2181.9 887.8 2204.6 891.5 2221.5 891.5 C2238.4 891.5 2259.1 886.8 2275.6 887.0 C2292.1 887.2 2301.9 893.9 2320.7 892.9 C2339.5 891.9 2362.1 882.6 2388.4 880.7 C2414.7 878.8 2448.6 884.5 2478.7 881.6 C2508.8 878.7 2535.1 866.5 2568.9 863.5 C2602.7 860.5 2647.8 865.1 2681.7 863.5 C2715.5 861.9 2754.7 853.6 2772.0 853.6 C2789.3 853.6 2784.0 859.6 2785.5 863.5 C2787.0 867.4 2781.8 874.8 2781.0 877.0" fill="none" stroke="#000" stroke-width="18.5" stroke-linecap="round" stroke-linejoin="round" />
<path d="M2862.0 855.4 C2871.7 855.3 2899.7 855.6 2920.0 855.0 C2940.3 854.4 2973.3 852.3 2984.0 851.8" fill="none" stroke="#000" stroke-width="18.5" stroke-linecap="round" stroke-linejoin="round" />
<path d="M2160.5 998.9 C2175.9 997.4 2224.8 991.0 2253.0 989.9 C2281.2 988.8 2306.9 992.8 2329.8 992.0 C2352.8 991.2 2380.5 986.5 2390.7 985.4" fill="none" stroke="#000" stroke-width="18" stroke-linecap="round" stroke-linejoin="round" />
<path d="M2426.8 983.1 C2439.2 981.9 2477.1 976.9 2501.0 976.0 C2524.9 975.1 2548.5 978.0 2570.0 978.0 C2591.5 978.0 2619.8 976.6 2629.8 976.3" fill="none" stroke="#000" stroke-width="17" stroke-linecap="round" stroke-linejoin="round" />
<path d="M2666.0 967.3 C2670.1 966.5 2673.0 962.6 2690.7 962.8 C2708.4 963.0 2739.7 968.6 2772.0 968.7 C2804.3 968.9 2857.4 965.4 2884.8 963.7 C2912.2 962.0 2928.0 959.2 2936.7 958.3" fill="none" stroke="#000" stroke-width="17" stroke-linecap="round" stroke-linejoin="round" />
<path d="M2274.0 1124.7 C2298.3 1124.3 2376.2 1123.6 2419.7 1122.4 C2463.2 1121.2 2500.3 1120.5 2535.0 1117.8 C2569.7 1115.1 2596.8 1108.3 2627.6 1106.0 C2658.4 1103.7 2693.0 1105.7 2720.0 1104.0 C2747.0 1102.3 2762.4 1097.3 2789.4 1095.6 C2816.4 1093.9 2858.3 1095.5 2881.8 1093.8 C2905.3 1092.1 2922.2 1086.9 2930.3 1085.5" fill="none" stroke="#000" stroke-width="17.5" stroke-linecap="round" stroke-linejoin="round" />
<path d="M2201.6 1251.8 C2207.1 1252.0 2217.7 1254.1 2234.8 1252.7 C2251.9 1251.3 2280.9 1245.0 2304.0 1243.5 C2327.1 1242.0 2350.4 1244.8 2373.5 1243.5 C2396.6 1242.2 2424.3 1237.1 2442.8 1235.6 C2461.3 1234.1 2472.1 1235.6 2484.4 1234.7 C2496.7 1233.8 2506.7 1229.3 2516.7 1230.0 C2526.7 1230.7 2536.4 1237.4 2544.5 1238.9 C2552.6 1240.4 2561.8 1238.9 2565.2 1238.9" fill="none" stroke="#000" stroke-width="17.5" stroke-linecap="round" stroke-linejoin="round" />
<path d="M2639.0 1224.0 C2644.8 1225.4 2659.5 1230.5 2673.8 1232.4 C2688.1 1234.3 2705.4 1237.8 2724.7 1235.6 C2744.0 1233.4 2763.2 1224.9 2789.4 1219.5 C2815.6 1214.1 2852.9 1206.5 2881.8 1203.3 C2910.7 1200.0 2949.2 1200.5 2962.7 1200.0" fill="none" stroke="#000" stroke-width="17.5" stroke-linecap="round" stroke-linejoin="round" />
<path d="M2234.8 1353.5 C2250.2 1353.9 2288.8 1357.5 2327.3 1355.8 C2365.8 1354.1 2408.2 1347.5 2466.0 1343.3 C2523.8 1339.1 2619.9 1335.0 2673.8 1330.4 C2727.7 1325.8 2756.3 1318.5 2789.4 1315.6 C2822.5 1312.7 2851.0 1314.3 2872.6 1312.8 C2894.2 1311.2 2911.1 1307.4 2918.8 1306.3" fill="none" stroke="#000" stroke-width="17.5" stroke-linecap="round" stroke-linejoin="round" />
<path d="M2215.4 1501.3 C2220.2 1500.9 2233.1 1500.9 2244.0 1499.0 C2254.9 1497.1 2268.7 1491.3 2281.0 1489.8 C2293.3 1488.3 2304.1 1491.3 2318.0 1489.8 C2331.9 1488.2 2347.2 1481.8 2364.2 1480.5 C2381.1 1479.2 2402.8 1483.3 2419.7 1482.0 C2436.6 1480.7 2453.6 1474.2 2465.9 1472.7 C2478.2 1471.2 2483.2 1471.4 2493.6 1472.7 C2504.0 1474.0 2522.5 1479.2 2528.3 1480.5" fill="none" stroke="#000" stroke-width="17.5" stroke-linecap="round" stroke-linejoin="round" />
<path d="M2613.8 1472.7 C2621.5 1473.2 2644.6 1476.6 2660.0 1476.0 C2675.4 1475.4 2676.9 1471.3 2706.2 1469.0 C2735.5 1466.7 2801.0 1466.2 2835.6 1462.0 C2870.2 1457.8 2895.5 1446.1 2914.0 1443.6 C2932.5 1441.1 2941.1 1446.3 2946.5 1446.8" fill="none" stroke="#000" stroke-width="17.5" stroke-linecap="round" stroke-linejoin="round" />
<path d="M2460.4 1617.8 C2465.2 1616.5 2474.2 1611.3 2489.0 1610.0 C2503.8 1608.7 2525.9 1611.2 2549.0 1610.0 C2572.1 1608.8 2600.6 1607.6 2627.6 1603.0 C2654.6 1598.4 2686.2 1583.4 2710.8 1582.2 C2735.5 1581.0 2754.7 1596.0 2775.5 1596.0 C2796.3 1596.0 2812.1 1585.0 2835.6 1582.2 C2859.1 1579.4 2903.0 1579.5 2916.5 1579.0" fill="none" stroke="#000" stroke-width="17.5" stroke-linecap="round" stroke-linejoin="round" />
<path d="M864.9 1888.3 C873.5 1887.5 895.3 1885.5 916.7 1883.5 C938.1 1881.6 967.8 1878.6 993.3 1876.8 C1018.9 1875.1 1044.4 1873.9 1070.0 1873.0 C1095.5 1872.1 1121.1 1871.7 1146.6 1871.5 C1172.2 1871.2 1207.3 1871.0 1223.3 1871.5 C1239.3 1871.9 1237.8 1872.4 1242.5 1874.0 C1247.1 1875.5 1249.2 1877.0 1251.1 1880.7 C1253.0 1884.3 1253.3 1888.3 1254.0 1896.0 C1254.6 1903.7 1254.9 1915.2 1254.9 1926.7 C1254.9 1938.2 1254.8 1954.8 1254.0 1965.0 C1253.2 1975.2 1252.4 1982.4 1250.1 1988.0 C1247.9 1993.6 1248.2 1995.5 1240.5 1998.5 C1232.9 2001.6 1223.0 2003.6 1204.1 2006.2 C1185.3 2008.7 1156.2 2012.6 1127.5 2013.9 C1098.7 2015.1 1060.4 2014.7 1031.6 2013.9 C1002.9 2013.1 977.3 2011.1 955.0 2009.1 C932.6 2007.0 910.3 2003.6 897.5 2001.4 C884.7 1999.2 882.6 1997.9 878.3 1995.6 C874.0 1993.4 873.2 1993.1 871.6 1988.0 C870.0 1982.9 869.5 1975.2 868.7 1965.0 C867.9 1954.8 867.1 1938.6 866.8 1926.7 C866.5 1914.7 866.8 1898.7 866.8 1893.1" fill="none" stroke="#000" stroke-width="11" stroke-linecap="round" stroke-linejoin="round" />
<ellipse cx="1187.3" cy="1943.9" rx="27.8" ry="32.9" fill="none" stroke="#000" stroke-width="10.5" transform="rotate(8 1187.3 1943.9)"/>
<path d="M1174.4 1934.3 L1204.1 1954.4" fill="none" stroke="#000" stroke-width="9.5" stroke-linecap="round" />
<path d="M1198.4 1929.5 L1174.4 1963.1" fill="none" stroke="#000" stroke-width="9.5" stroke-linecap="round" />
<path d="M1327.9 1950.4 C1327.5 1948.3 1327.4 1945.5 1330.5 1943.1 C1333.6 1940.8 1334.8 1938.3 1346.6 1936.3 C1358.4 1934.4 1383.2 1933.0 1401.5 1931.2 C1419.7 1929.4 1438.0 1927.7 1456.3 1925.7 C1474.6 1923.7 1498.1 1920.7 1511.2 1919.3 C1524.3 1918.0 1521.6 1918.1 1535.0 1917.5 C1548.4 1916.9 1574.3 1916.7 1591.7 1915.7 C1609.1 1914.6 1623.7 1912.2 1639.2 1911.1 C1654.8 1910.0 1674.3 1909.1 1685.0 1909.3 C1695.6 1909.4 1699.8 1910.3 1703.3 1912.0 C1706.8 1913.7 1707.5 1916.6 1706.0 1919.3 C1704.5 1922.1 1703.7 1926.2 1694.1 1928.5 C1684.5 1930.8 1665.5 1931.4 1648.4 1933.0 C1631.3 1934.7 1610.6 1936.7 1591.7 1938.5 C1572.8 1940.4 1554.5 1942.5 1535.0 1944.0 C1515.5 1945.5 1496.9 1946.2 1474.6 1947.7 C1452.4 1949.2 1422.8 1951.6 1401.5 1953.2 C1380.1 1954.8 1358.0 1956.7 1346.6 1957.2 C1335.2 1957.6 1336.0 1957.0 1332.9 1955.9 C1329.8 1954.8 1328.3 1952.6 1327.9 1950.4Z" fill="none" stroke="#000" stroke-width="11" stroke-linecap="round" stroke-linejoin="round" />
<path d="M1535.9 1916.6 C1537.0 1911.4 1537.3 1906.8 1540.5 1903.8 C1543.7 1900.7 1549.3 1899.2 1555.1 1898.3 C1560.9 1897.4 1569.7 1896.8 1575.2 1898.3 C1580.7 1899.8 1585.3 1902.9 1588.0 1907.4 C1590.8 1912.0 1591.2 1919.6 1591.7 1925.7 C1592.1 1931.8 1592.3 1938.8 1590.8 1944.0 C1589.3 1949.2 1586.7 1953.6 1582.5 1956.8 C1578.4 1960.0 1571.6 1962.6 1566.1 1963.2 C1560.6 1963.8 1554.3 1962.8 1549.6 1960.5 C1544.9 1958.2 1540.3 1953.8 1537.7 1949.5 C1535.1 1945.2 1534.4 1940.4 1534.1 1934.9 C1533.8 1929.4 1534.8 1921.8 1535.9 1916.6Z" fill="#000"/>
<path d="M1551.4 2051.9 C1551.9 2047.7 1553.4 2035.2 1554.2 2026.3 C1555.0 2017.5 1555.3 2005.4 1556.0 1998.9 C1556.8 1992.3 1557.4 1989.7 1558.8 1987.0 C1560.1 1984.3 1562.4 1982.6 1564.3 1982.8 C1566.1 1983.0 1568.4 1984.3 1569.7 1987.9 C1571.1 1991.5 1571.7 1998.3 1572.5 2004.4 C1573.2 2010.5 1573.9 2018.4 1574.3 2024.5 C1574.8 2030.6 1575.1 2038.2 1575.2 2041.0" fill="none" stroke="#000" stroke-width="11.5" stroke-linecap="round" stroke-linejoin="round" />
<path d="M1575.6 2041.0 C1576.1 2037.6 1577.1 2025.1 1578.5 2020.8 C1580.0 2016.6 1582.4 2015.9 1584.4 2015.7 C1586.3 2015.6 1588.9 2015.7 1590.2 2019.9 C1591.6 2024.1 1592.2 2037.5 1592.6 2041.0" fill="none" stroke="#000" stroke-width="13" stroke-linecap="round" stroke-linejoin="round" />
<path d="M1592.6 2041.0 C1593.2 2037.2 1594.6 2022.8 1596.3 2018.1 C1597.9 2013.4 1600.6 2012.9 1602.7 2012.8 C1604.7 2012.7 1607.5 2012.9 1608.7 2017.6 C1609.9 2022.2 1609.8 2037.1 1610.0 2041.0" fill="none" stroke="#000" stroke-width="13" stroke-linecap="round" stroke-linejoin="round" />
<path d="M1610.0 2041.0 C1610.6 2036.9 1612.1 2020.9 1613.6 2016.3 C1615.2 2011.6 1617.4 2012.1 1619.1 2013.2 C1620.9 2014.2 1623.2 2019.0 1624.2 2022.7 C1625.3 2026.4 1625.6 2030.3 1625.5 2035.5 C1625.4 2040.7 1625.1 2048.0 1623.7 2053.8 C1622.3 2059.6 1620.2 2065.0 1617.3 2070.2 C1614.4 2075.4 1610.6 2080.3 1606.3 2084.9 C1602.1 2089.4 1596.0 2094.8 1591.7 2097.7 C1587.4 2100.6 1584.4 2102.2 1580.7 2102.2 C1577.1 2102.2 1573.4 2100.0 1569.7 2097.7 C1566.1 2095.4 1562.7 2091.3 1558.8 2088.5 C1554.8 2085.8 1549.3 2083.6 1546.0 2081.2 C1542.6 2078.8 1541.4 2077.2 1538.6 2073.9 C1535.9 2070.5 1532.1 2065.4 1529.5 2061.1 C1526.9 2056.8 1524.4 2052.6 1523.1 2048.3 C1521.8 2044.0 1521.5 2038.7 1521.8 2035.5 C1522.1 2032.3 1523.2 2030.4 1524.9 2029.1 C1526.7 2027.8 1530.0 2026.7 1532.2 2027.8 C1534.5 2028.9 1536.4 2032.4 1538.6 2035.5 C1540.9 2038.6 1543.8 2043.6 1546.0 2046.5 C1548.1 2049.3 1550.5 2051.8 1551.4 2052.9" fill="none" stroke="#000" stroke-width="11" stroke-linecap="round" stroke-linejoin="round" />
<path d="M1563.3 2055.6 L1566.1 2079.4" fill="none" stroke="#000" stroke-width="9" stroke-linecap="round" />
<path d="M1586.2 2053.8 L1588.9 2077.5" fill="none" stroke="#000" stroke-width="9" stroke-linecap="round" />
<path d="M1606.3 2051.0 L1607.2 2070.2" fill="none" stroke="#000" stroke-width="9" stroke-linecap="round" />
<defs><g id="g0"><path d="M7.25,-85 L66,-85 M36.8,-85 L36.8,-7.25"/></g>
<g id="g1"><path d="M47,-60.5 C40,-62.5 29,-62 21,-55.5 C11,-47 5.5,-31 8,-19 C11,-8 22,-5 31,-9 C39,-12.5 45,-19 48,-26"/><path d="M47.3,-61 C46.8,-45 47.3,-30 50,-20 C52,-13 54,-10 55,-7.5"/></g>
<g id="g2"><path d="M41.7,-58.5 C37,-63 31,-65 26,-64.7 C15,-64 9,-58 10.4,-51 C12,-43 20,-39 28,-37 C37,-34 45,-30 44.2,-21.7 C43,-12 36,-7 27.8,-6.6 C19,-6 12,-11 7.3,-16.3"/></g>
<g id="g3"><path d="M7.3,-91 L7.3,-7.25 M43,-67 L9,-39 M23,-50 L51,-8.5"/></g>
<g id="g4"><path d="M54.6,-50 C48,-57 40,-60 32,-59.6 C17,-58 7,-47 7.2,-33.7 C7.5,-18 17,-7 31.8,-6.6 C41,-6.5 49,-11 54.6,-18"/><path d="M54.6,-58 L54.6,8 C54.6,20 45,27 32,27.2 C23,27.2 17,24 11.4,21.6"/></g>
<g id="g5"><ellipse cx="30.9" cy="-33" rx="22.6" ry="28.6" transform="rotate(17 30.9 -33)"/></g>
<g id="g6"><path d="M7.5,-89.6 L7.5,-22 C7.5,-12 10,-7 13.5,-5.3"/></g>
<g id="g7"><path d="M7.2,-82 C7.2,-60 7.5,-45 9,-33 C11,-15 20,-7.2 34.5,-7.2 C47,-7.2 52,-18 55,-32 C59,-50 61,-68 62.4,-82"/></g>
<g id="g8"><path d="M14.5,-29.5 L47,-40.5 C53,-43 54.5,-50 50,-55.5 C44,-62 31,-62 21.5,-56 C12,-50 7.3,-39 7.4,-29 C8,-14 17,-6.5 28,-6.5 C39,-6.5 48,-10.5 54.5,-16"/></g>
<g id="g9"><path d="M7.2,-59 L12.5,-57 L12.5,-7.25 M12.5,-46 C20,-55 30,-61 37,-60.5 C41,-60 44,-58.5 45.5,-57"/></g>
<g id="g10"><path d="M17.1,-98.5 L7.25,-78.5"/></g>
<g id="g11"><path d="M7.1,-59 L7.1,25.7 M7.1,-48 C14,-56 23,-59 31,-58 C42,-56 49,-46 48.8,-34 C48,-20 38,-11 26,-10.3 C18,-10 12,-10.5 7.1,-12"/></g>
<g id="g12"><path d="M7.1,-60 L7.1,-7.25 M7.1,-44 C12,-53 20,-60 28,-60 C38,-60 43.3,-53 43.3,-43 L43.3,-7.25 M43.3,-44 C48,-53 56,-60 63,-60 C73,-60 78.1,-53 78.1,-43 L78.1,-7.25"/></g>
<g id="g13"><path d="M22,-86.5 L22,-7.25 M7.25,-59.5 L41,-59.5"/></g>
<g id="g14"><path d="M7.25,-85 L38.4,-85 M23,-85 L23,-8 M7.25,-8 L38.4,-8"/></g>
<g id="g15"><path d="M7.3,-60.5 L7.3,-7.25 M7.3,-43 C13,-53 22,-61 32,-61 C43,-61 48.4,-54 48.4,-43 L48.4,-7.25"/></g>
<g id="g16"><path d="M53,-90 L53,-22 C53,-14 55,-10 58,-8 M53,-50 C47,-57 38,-60 30,-59.5 C16,-58 7,-46 7.2,-32 C7.5,-17 16,-7 28,-7 C39,-7 48,-13 53,-22"/></g>
<g id="g17"><circle cx="8.5" cy="-87" r="8.5" stroke="none" fill="#000"/><path d="M8.5,-62 L8.5,-7.25"/></g>
<g id="g18"><path d="M27,-99 C13,-82 7.3,-62 7.3,-44 C7.3,-22 14,-3 28.3,14"/></g>
<g id="g19"><path d="M8,-98 C21,-82 28.5,-62 28.5,-42 C28.5,-22 21,-3 7.3,14"/></g>
<g id="g20"><path d="M47,-56 C42,-61 36,-63 29,-63 C16,-62 7.2,-49 7.2,-35 C7.2,-20 16,-7.2 29,-7.2 C36,-7.2 42,-11 46,-15"/></g>
<g id="g21"><path d="M8.5,-90 L8.5,-9 M8.5,-42 C14,-53 24,-60 34,-59 C46,-58 53,-48 53,-36 C53,-21 44,-9 30,-8 C21,-7.5 13,-8 7.5,-9.5"/></g>
<g id="g22"><ellipse cx="42" cy="-44.5" rx="33.5" ry="40.5" transform="rotate(14 42 -44.5)"/></g>
<g id="g23"><path d="M7.2,-57 L7.2,-28 C7.2,-14 14,-7.2 25,-7.2 C36,-7.2 44,-16 47.5,-28 M47.5,-57 L47.5,-22 C47.5,-14 50,-9.5 54,-7.5"/></g></defs>
<g fill="none" stroke="#000" stroke-width="14.5" stroke-linecap="round" stroke-linejoin="round"><use href="#g0" transform="translate(995.7,623.3) scale(1.0)"/><use href="#g1" transform="translate(1064.3,623.3) scale(1.0)"/><use href="#g2" transform="translate(1134.0,623.3) scale(1.0)"/><use href="#g3" transform="translate(1199.7,623.3) scale(1.0)"/><use href="#g4" transform="translate(1318.7,623.3) scale(1.0)"/><use href="#g5" transform="translate(1392.0,623.3) scale(1.0)"/><use href="#g1" transform="translate(1462.9,623.3) scale(1.0)"/><use href="#g6" transform="translate(1538.0,623.3) scale(1.0)"/></g>
<g fill="none" stroke="#000" stroke-width="14.5" stroke-linecap="round" stroke-linejoin="round"><use href="#g7" transform="translate(85.7,986.7) scale(1.0)"/><use href="#g2" transform="translate(164.0,986.7) scale(1.0)"/><use href="#g8" transform="translate(223.3,986.7) scale(1.0)"/><use href="#g9" transform="translate(295.5,986.7) scale(1.0)"/><use href="#g10" transform="translate(351.9,986.7) scale(1.0)"/><use href="#g2" transform="translate(358.2,986.7) scale(1.0)"/></g>
<g fill="none" stroke="#000" stroke-width="14.5" stroke-linecap="round" stroke-linejoin="round"><use href="#g11" transform="translate(48.8,1174.0) scale(1.0)"/><use href="#g9" transform="translate(112.8,1174.0) scale(1.0)"/><use href="#g5" transform="translate(165.3,1174.0) scale(1.0)"/><use href="#g12" transform="translate(235.4,1174.0) scale(1.0)"/><use href="#g11" transform="translate(334.9,1174.0) scale(1.0)"/><use href="#g13" transform="translate(397.6,1174.0) scale(1.0)"/></g>
<g fill="none" stroke="#000" stroke-width="14.5" stroke-linecap="round" stroke-linejoin="round"><use href="#g14" transform="translate(1061.8,1069.5) scale(1.0)"/><use href="#g15" transform="translate(1122.3,1069.5) scale(1.0)"/><use href="#g13" transform="translate(1188.9,1069.5) scale(1.0)"/><use href="#g8" transform="translate(1239.5,1069.5) scale(1.0)"/><use href="#g15" transform="translate(1313.4,1069.5) scale(1.0)"/><use href="#g13" transform="translate(1379.8,1069.5) scale(1.0)"/></g>
<g fill="none" stroke="#000" stroke-width="14.5" stroke-linecap="round" stroke-linejoin="round"><use href="#g14" transform="translate(1105.2,1351.0) scale(1.035)"/><use href="#g15" transform="translate(1167.7,1351.0) scale(1.035)"/><use href="#g13" transform="translate(1236.8,1351.0) scale(1.035)"/><use href="#g8" transform="translate(1289.6,1351.0) scale(1.035)"/><use href="#g15" transform="translate(1365.0,1351.0) scale(1.035)"/><use href="#g13" transform="translate(1433.8,1351.0) scale(1.035)"/></g>
<g fill="none" stroke="#000" stroke-width="14.5" stroke-linecap="round" stroke-linejoin="round"><use href="#g16" transform="translate(964.0,1552.0) scale(1.035)"/><use href="#g17" transform="translate(1043.3,1552.0) scale(1.035)"/><use href="#g12" transform="translate(1076.8,1552.0) scale(1.035)"/><use href="#g8" transform="translate(1184.0,1552.0) scale(1.035)"/><use href="#g15" transform="translate(1259.3,1552.0) scale(1.035)"/><use href="#g2" transform="translate(1325.4,1552.0) scale(1.035)"/><use href="#g17" transform="translate(1390.7,1552.0) scale(1.035)"/><use href="#g5" transform="translate(1421.2,1552.0) scale(1.035)"/><use href="#g15" transform="translate(1498.2,1552.0) scale(1.035)"/><use href="#g2" transform="translate(1564.4,1552.0) scale(1.035)"/></g>
<g fill="none" stroke="#000" stroke-width="14.5" stroke-linecap="round" stroke-linejoin="round"><use href="#g18" transform="translate(894.3,1752.0) scale(1.035)"/><use href="#g20" transform="translate(936.3,1752.0) scale(1.035)"/><use href="#g5" transform="translate(997.0,1752.0) scale(1.035)"/><use href="#g15" transform="translate(1072.4,1752.0) scale(1.035)"/><use href="#g13" transform="translate(1141.9,1752.0) scale(1.035)"/><use href="#g9" transform="translate(1202.3,1752.0) scale(1.035)"/><use href="#g5" transform="translate(1258.5,1752.0) scale(1.035)"/><use href="#g6" transform="translate(1333.2,1752.0) scale(1.035)"/><use href="#g6" transform="translate(1373.2,1752.0) scale(1.035)"/><use href="#g1" transform="translate(1402.7,1752.0) scale(1.035)"/><use href="#g21" transform="translate(1480.0,1752.0) scale(1.035)"/><use href="#g6" transform="translate(1558.6,1752.0) scale(1.035)"/><use href="#g8" transform="translate(1589.6,1752.0) scale(1.035)"/><use href="#g19" transform="translate(1655.7,1752.0) scale(1.035)"/></g>
<g fill="none" stroke="#000" stroke-width="14.5" stroke-linecap="round" stroke-linejoin="round"><use href="#g22" transform="translate(2381.7,417.2) scale(0.87)"/><use href="#g23" transform="translate(2466.6,417.2) scale(0.87)"/><use href="#g13" transform="translate(2523.2,417.2) scale(0.87)"/><use href="#g11" transform="translate(2574.8,417.2) scale(0.87)"/><use href="#g23" transform="translate(2635.4,417.2) scale(0.87)"/><use href="#g13" transform="translate(2690.9,417.2) scale(0.87)"/></g>
</svg></body></html>
